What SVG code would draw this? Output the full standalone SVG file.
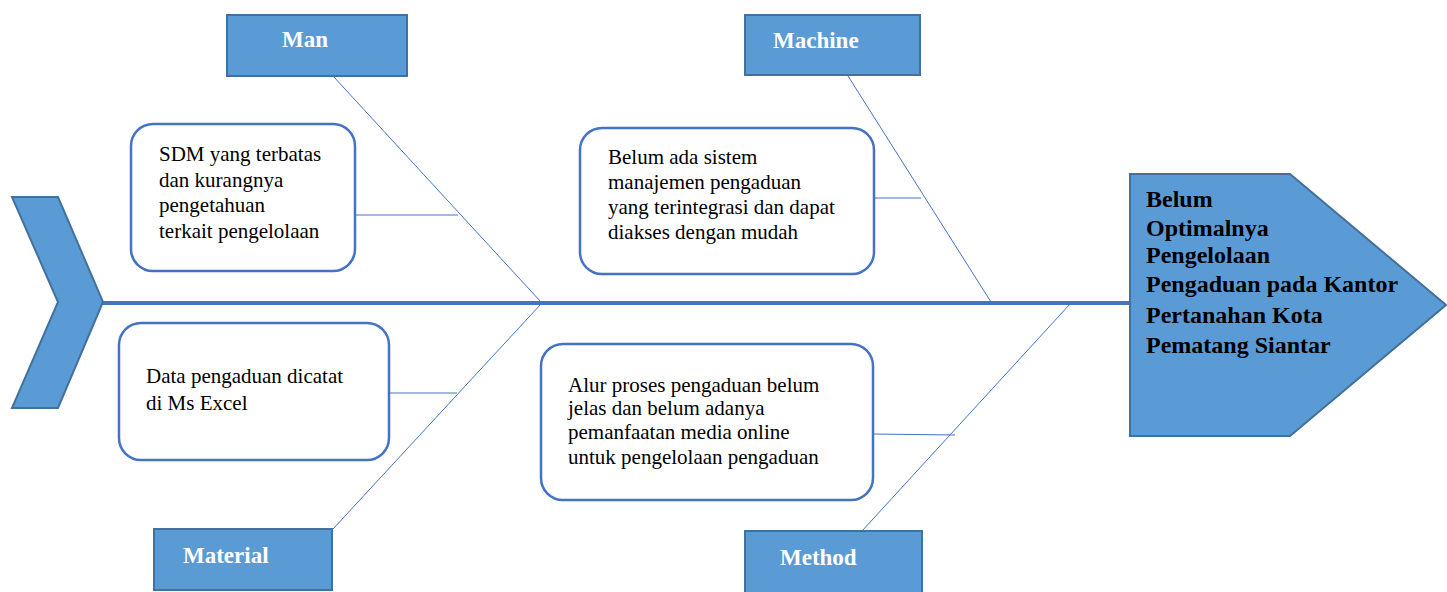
<svg xmlns="http://www.w3.org/2000/svg" width="1447" height="592" viewBox="0 0 1447 592">
<style>
.cat{fill:#5B9BD5;stroke:#41719C;stroke-width:2}
.lbl{font-family:"Liberation Serif","Times New Roman",serif;font-weight:bold;font-size:23px;fill:#ffffff}
.box{fill:#ffffff;stroke:#4472C4;stroke-width:2.5}
.txt{font-family:"Liberation Serif","Times New Roman",serif;font-size:21px;fill:#000000}
.head{font-family:"Liberation Serif","Times New Roman",serif;font-weight:bold;font-size:24px;fill:#000000}
.bone{stroke:#4472C4;stroke-width:1;fill:none}
.spine{stroke:#4472C4;stroke-width:4;fill:none}
</style>
<rect width="1447" height="592" fill="#ffffff"/>
<g id="connectors">
<line class="spine" x1="102" y1="303" x2="1131" y2="303"/>
<line class="bone" x1="333" y1="76" x2="541" y2="302"/>
<line class="bone" x1="848" y1="76" x2="991" y2="302"/>
<line class="bone" x1="541" y1="304" x2="333" y2="529"/>
<line class="bone" x1="1070" y1="304" x2="862" y2="531"/>
<line class="bone" x1="355" y1="215" x2="458" y2="215"/>
<line class="bone" x1="873" y1="198" x2="921" y2="198"/>
<line class="bone" x1="389" y1="393" x2="457" y2="393"/>
<line class="bone" x1="873" y1="434" x2="955" y2="435"/>
</g>
<g id="tail">
<polygon class="cat" points="12,197 58,197 103,302 58,408 12,408 58,302"/>
</g>
<g id="head">
<polygon class="cat" points="1130,174 1290,174 1446,305 1290,436 1130,436"/>
<text class="head" x="1146" y="207">Belum</text>
<text class="head" x="1146" y="236">Optimalnya</text>
<text class="head" x="1146" y="263">Pengelolaan</text>
<text class="head" x="1146" y="292">Pengaduan pada Kantor</text>
<text class="head" x="1146" y="323">Pertanahan Kota</text>
<text class="head" x="1146" y="353">Pematang Siantar</text>
</g>
<g id="man">
<rect class="cat" x="227" y="15" width="180" height="61"/>
<text class="lbl" x="282" y="47">Man</text>
</g>
<g id="machine">
<rect class="cat" x="745" y="15" width="175" height="60"/>
<text class="lbl" x="773" y="48">Machine</text>
</g>
<g id="material">
<rect class="cat" x="154" y="529" width="178" height="61"/>
<text class="lbl" x="183" y="563">Material</text>
</g>
<g id="method">
<rect class="cat" x="745" y="531" width="177" height="70"/>
<text class="lbl" x="780" y="565">Method</text>
</g>
<g id="cause-man">
<rect class="box" x="131" y="124" width="224" height="147" rx="22"/>
<text class="txt" x="159" y="161">SDM yang terbatas</text>
<text class="txt" x="159" y="187">dan kurangnya</text>
<text class="txt" x="159" y="212">pengetahuan</text>
<text class="txt" x="159" y="238">terkait pengelolaan</text>
</g>
<g id="cause-machine">
<rect class="box" x="580" y="128" width="294" height="146" rx="22"/>
<text class="txt" x="608" y="164">Belum ada sistem</text>
<text class="txt" x="608" y="189">manajemen pengaduan</text>
<text class="txt" x="608" y="214">yang terintegrasi dan dapat</text>
<text class="txt" x="608" y="239">diakses dengan mudah</text>
</g>
<g id="cause-material">
<rect class="box" x="119" y="323" width="270" height="137" rx="22"/>
<text class="txt" x="146" y="383">Data pengaduan dicatat</text>
<text class="txt" x="146" y="410">di Ms Excel</text>
</g>
<g id="cause-method">
<rect class="box" x="541" y="344" width="332" height="156" rx="22"/>
<text class="txt" x="568" y="392">Alur proses pengaduan belum</text>
<text class="txt" x="568" y="415">jelas dan belum adanya</text>
<text class="txt" x="568" y="439">pemanfaatan media online</text>
<text class="txt" x="568" y="464">untuk pengelolaan pengaduan</text>
</g>
</svg>
